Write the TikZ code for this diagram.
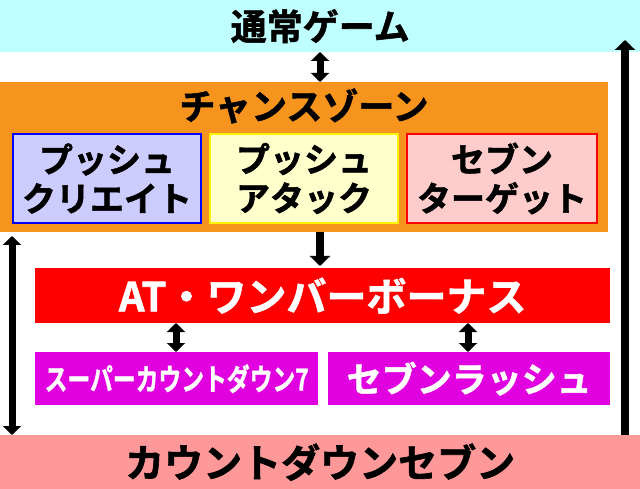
\documentclass[tikz,border=0pt]{standalone}
\usepackage{fontspec}
\setmainfont{Noto Sans CJK JP}[BoldFont={Noto Sans CJK JP Bold},BoldFeatures={FakeBold=1.5}]
\usetikzlibrary{arrows.meta}
\definecolor{cy}{HTML}{C0FFFF}
\definecolor{org}{HTML}{F7941D}
\definecolor{lav}{HTML}{CCCCFF}
\definecolor{ylw}{HTML}{FFFFCC}
\definecolor{pnk}{HTML}{FFCCCC}
\definecolor{rd}{HTML}{FF0000}
\definecolor{mg}{HTML}{E000E0}
\definecolor{sal}{HTML}{FF9999}
\tikzset{
 bar/.style={draw=none,minimum height=#1,inner sep=0pt,font=\bfseries\fontsize{36}{38}\selectfont,anchor=north west},
 sub/.style={line width=2pt,minimum width=188pt,minimum height=89pt,inner sep=0pt,align=center,anchor=north west,font=\bfseries\fontsize{34}{39}\selectfont},
 arr/.style={line width=8pt,-{Triangle[length=10pt,width=20pt]}},
 darr/.style={line width=7pt,{Triangle[length=9pt,width=18pt]}-{Triangle[length=9pt,width=18pt]}}
}
\begin{document}
\begin{tikzpicture}[x=1pt,y=-1pt]
\useasboundingbox (0,0) rectangle (640,489);
\fill[white] (0,0) rectangle (640,489);
\node[bar=52pt,fill=cy,minimum width=640pt] (top) at (0,0) {通常ゲーム};
\fill[org] (0,82) rectangle (608,232);
\node[font=\bfseries\fontsize{36}{38}\selectfont] (cz) at (304,106) {チャンスゾーン};
\node[sub,draw=blue,fill=lav] (p1) at (12,133) {プッシュ\\クリエイト};
\node[sub,draw=yellow,fill=ylw] (p2) at (209,133) {プッシュ\\アタック};
\node[sub,draw=rd,fill=pnk,minimum width=190pt] (p3) at (406,133) {セブン\\ターゲット};
\node[bar=55pt,fill=rd,minimum width=575pt,text=white,font=\bfseries\fontsize{40}{42}\selectfont] (at) at (35,268) {AT・ワンバーボーナス};
\node[bar=53pt,fill=mg,minimum width=283pt,text=white,font=\bfseries\fontsize{30}{32}\selectfont] (sc) at (35,352) {\scalebox{0.76}[1]{スーパーカウントダウン7}};
\node[bar=53pt,fill=mg,minimum width=282pt,text=white,font=\bfseries\fontsize{35}{37}\selectfont] (sr) at (328,352) {セブンラッシュ};
\node[bar=54pt,fill=sal,minimum width=640pt,font=\bfseries\fontsize{39}{41}\selectfont] (bot) at (0,435) {カウントダウンセブン};
\coordinate (a1) at (320,52); \coordinate (a2) at (320,82);
\draw[darr] (a1) -- (a2);
\coordinate (b1) at (320,232); \coordinate (b2) at (320,266);
\draw[arr] (b1) -- (b2);
\coordinate (c1) at (176,323); \coordinate (c2) at (176,352);
\draw[darr] (c1) -- (c2);
\coordinate (d1) at (468,323); \coordinate (d2) at (468,352);
\draw[darr] (d1) -- (d2);
\coordinate (e1) at (12,236); \coordinate (e2) at (12,435);
\draw[darr] (e1) -- (e2);
\coordinate (f1) at (625,435); \coordinate (f2) at (625,40);
\draw[arr] (f1) -- (f2);
\end{tikzpicture}
\end{document}
